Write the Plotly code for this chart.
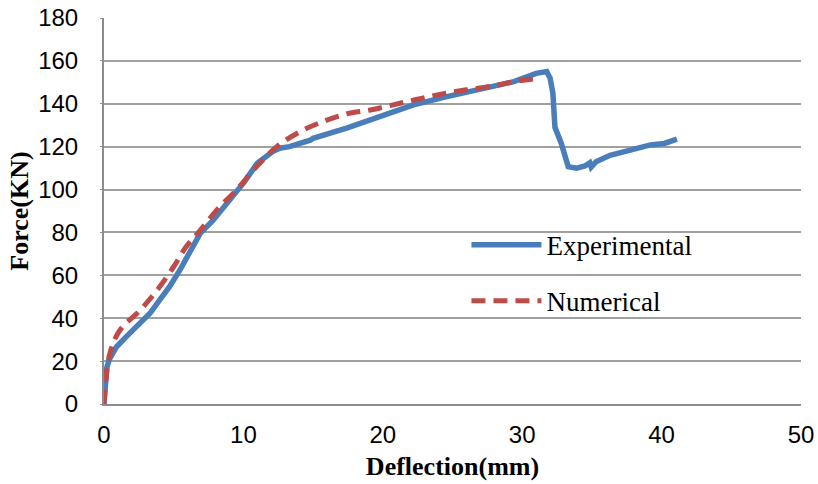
import plotly.graph_objects as go

exp_x = [0, 0.1, 0.2, 0.4, 0.9, 1.6, 2.1, 2.7, 3.3, 4.0, 4.7, 5.45, 6.2, 6.9, 7.8, 8.6, 9.3, 10.0, 11.0,
         12.1, 12.6, 13.3, 14.8, 15.0, 17.4, 19.8, 22.2, 24.6, 27.0, 29.4, 31.0, 31.5, 31.76,
         32.0, 32.2, 32.35, 32.8, 33.3, 33.9, 34.5, 34.85, 34.95, 35.3, 36.3, 37.5, 39.2, 40.2, 41.1]
exp_y = [0, 8, 17, 21, 26.7, 31.4, 34.5, 38.5, 42.3, 48.5, 54.7, 62.5, 71.8, 79.6, 85.5, 92, 97.5, 103, 112.3,
         117.7, 119.3, 120, 123, 123.9, 128.6, 134.3, 139.5, 143.3, 146.8, 150.3, 154.2, 154.6, 155,
         152, 145, 129, 121.6, 110.7, 110, 111, 112.5, 110.5, 113, 116, 118, 120.8, 121.5, 123.5]

num_x = [0, 0.07, 0.43, 1.15, 2.6, 3.8, 5.0, 5.9, 6.9, 8.1, 9.5, 10.95, 12.4, 14.06, 15.7, 17.4, 19.1,
         20.75, 22.4, 24.1, 26.0, 27.9, 29.4, 31.15]
num_y = [0, 6.5, 23.8, 34.5, 43.8, 53, 64, 73.4, 81, 90.5, 99.8, 110.7, 120, 127, 131.7, 135.3, 137.1,
         139.5, 142, 144.4, 146.5, 148.3, 150.3, 151.9]

x_ticks = [0, 10, 20, 30, 40, 50]
y_ticks = [0, 20, 40, 60, 80, 100, 120, 140, 160, 180]

fig = go.Figure()
fig.add_trace(go.Scatter(x=exp_x, y=exp_y, mode="lines", name="Experimental", legendgroup="a",
                         line=dict(color="#4a7ebb", width=5.5)))
fig.add_trace(go.Scatter(x=num_x, y=num_y, mode="lines", name="Numerical", legendgroup="b",
                         line=dict(color="#be4b48", width=5, dash="14px,8px", shape="spline")))

tickfont = dict(family="Liberation Sans", size=24, color="#000000")
fig.update_layout(
    width=818, height=484,
    margin=dict(l=104, r=17, t=18, b=80, autoexpand=False),
    paper_bgcolor="white", plot_bgcolor="white",
    showlegend=True,
    legend=dict(x=0.52, y=0.475, xanchor="left", yanchor="top",
                bgcolor="rgba(0,0,0,0)", font=dict(family="Liberation Serif", size=27, color="#000"),
                tracegroupgap=18, itemwidth=70),
    xaxis=dict(range=[0, 50], tickvals=x_ticks, showgrid=False, zeroline=False, automargin=False,
               showline=True, linecolor="#8c8c8c", linewidth=2, ticks="",
               tickfont=tickfont, ticklabelstandoff=8,
               title=dict(text="<b>Deflection(mm)</b>", standoff=10,
                          font=dict(family="Liberation Serif", size=26, color="#000"))),
    yaxis=dict(range=[0, 180], tickvals=y_ticks, showgrid=True, gridcolor="#a0a0a0", gridwidth=1.5,
               zeroline=False, showline=True, linecolor="#8c8c8c", linewidth=2, automargin=False,
               ticks="outside", ticklen=2, tickcolor="#8c8c8c",
               tickfont=tickfont, ticklabelstandoff=17,
               title=dict(text="<b>Force(KN)</b>", standoff=2,
                          font=dict(family="Liberation Serif", size=26, color="#000"))),
)
fig.write_html("out.html")
